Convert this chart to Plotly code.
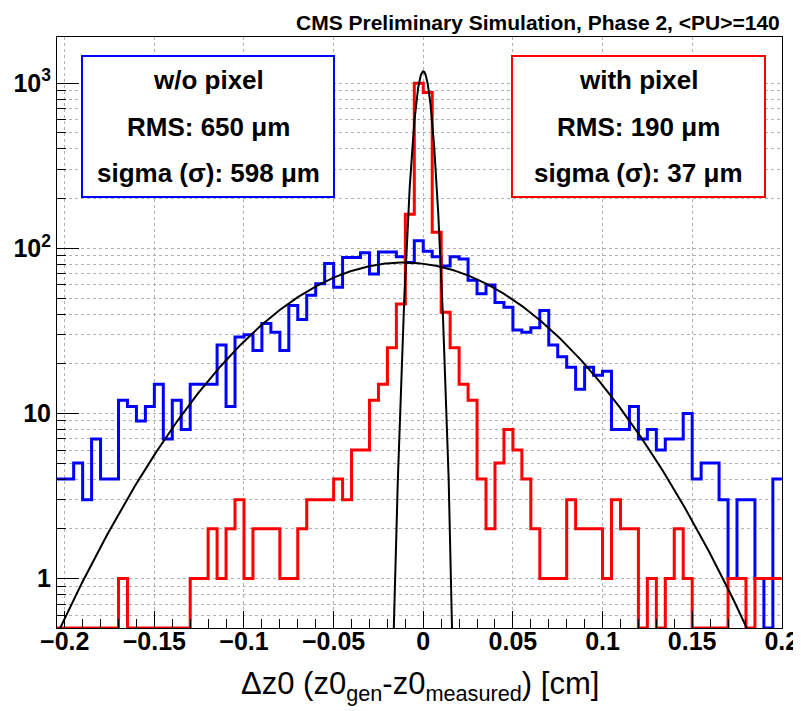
import numpy as np
import plotly.graph_objects as go

# ---------------- data ----------------
BIN_WIDTH = 0.005
BIN_START = -0.205  # first (partly visible) bin edge; 81 bins up to 0.2

wo_pixel_counts = [
    4, 4, 5, 3, 7, 4, 4, 12, 11, 9, 11, 15, 7, 12, 8, 15, 15, 15, 26, 11,
    29, 30, 24, 35, 31, 24, 45, 37, 52, 61, 81, 58, 88, 88, 94, 70, 95, 95, 89, 82,
    111, 96, 89, 78, 89, 86, 64, 53, 60, 47, 44, 32, 31, 33, 42, 26, 22, 19, 14, 19,
    17, 18, 8, 8, 11, 7, 8, 6, 7, 7, 10, 4, 5, 5, 3, 1, 3, 3, 1, 0, 4,
]

with_pixel_counts = [
    0, 0, 0, 0, 0, 0, 0, 1, 0, 0, 0, 0, 0, 0, 0, 1, 1, 2, 1, 2,
    3, 1, 2, 2, 2, 1, 1, 2, 3, 3, 3, 4, 3, 6, 6, 12, 15, 25, 46, 161,
    1000, 880, 125, 41, 25, 15, 12, 4, 2, 5, 8, 6, 4, 2, 1, 1, 1, 3, 2, 2,
    2, 1, 3, 2, 2, 0, 1, 0, 1, 2, 1, 0, 0, 0, 0, 1, 1, 0, 1, 1, 1,
]

# Gaussian fit parameters (amplitude, mean [cm], sigma [cm])
wide_fit = (82.0, -0.011, 0.060)
narrow_fit = (1180.0, 0.0, 0.0042)

box_wo_lines = ["w/o pixel", "RMS: 650 \u03bcm", "sigma (\u03c3): 598 \u03bcm"]
box_with_lines = ["with pixel", "RMS: 190 \u03bcm", "sigma (\u03c3): 37 \u03bcm"]
title_text = "CMS Preliminary Simulation, Phase 2, &lt;PU&gt;=140"
x_title = "\u0394z0 (z0<sub>gen</sub>-z0<sub>measured</sub>) [cm]"

x_tick_vals = [-0.2, -0.15, -0.1, -0.05, 0, 0.05, 0.1, 0.15, 0.2]
x_tick_text = ["\u22120.2", "\u22120.15", "\u22120.1", "\u22120.05", "0", "0.05", "0.1", "0.15", "0.2"]
y_tick_vals = [1, 10, 100, 1000]
y_tick_text = ["1", "10", "10<sup>2</sup>", "10<sup>3</sup>"]

# ---------------- layout geometry ----------------
# The page body has an 8px margin, so the figure starts at (8, 8) in the screenshot.
OFF = 8
SW, SH = 801, 711                 # screenshot size
W, H = SW - OFF, SH - OFF         # figure size
L, R, T, B = 57, 782, 37, 628     # plot frame in screenshot pixels
X_RANGE = [-0.2043, 0.2001]
Y_LOG_RANGE = [-0.30, 3.28]
y_floor = 10 ** Y_LOG_RANGE[0]

FONT = "Liberation Sans, Arial, Helvetica, sans-serif"

def px2paper_x(px):
    return (px - L) / (R - L)

def px2paper_y(py):
    return (B - py) / (B - T)

def hist_xy(counts):
    n = len(counts)
    edges = BIN_START + BIN_WIDTH * np.arange(n + 1)
    vals = [c if c > 0 else y_floor for c in counts]
    return list(edges), vals + [vals[-1]]

def gauss(x, p):
    a, m, s = p
    return a * np.exp(-0.5 * ((x - m) / s) ** 2)

fig = go.Figure()

bx, by = hist_xy(wo_pixel_counts)
fig.add_trace(go.Scatter(x=bx, y=by, mode="lines", line=dict(shape="hv", color="#0000ff", width=3),
                         showlegend=False, hoverinfo="skip"))
rx, ry = hist_xy(with_pixel_counts)
fig.add_trace(go.Scatter(x=rx, y=ry, mode="lines", line=dict(shape="hv", color="#ff0000", width=3),
                         showlegend=False, hoverinfo="skip"))

xw = np.linspace(X_RANGE[0], X_RANGE[1], 600)
fig.add_trace(go.Scatter(x=xw, y=gauss(xw, wide_fit), mode="lines", line=dict(color="black", width=2),
                         showlegend=False, hoverinfo="skip"))
xn = np.linspace(-0.025, 0.025, 601)
fig.add_trace(go.Scatter(x=xn, y=gauss(xn, narrow_fit), mode="lines", line=dict(color="black", width=2),
                         showlegend=False, hoverinfo="skip"))

minor_y = [m * 10 ** d for d in range(-1, 4) for m in range(2, 10)]
minor_y = [v for v in minor_y if Y_LOG_RANGE[0] < np.log10(v) < Y_LOG_RANGE[1]]

grid_col = "#b0b0b0"
fig.update_layout(
    width=W, height=H,
    margin=dict(l=L - OFF, r=SW - R, t=T - OFF, b=SH - B, autoexpand=False),
    paper_bgcolor="white", plot_bgcolor="white",
    xaxis=dict(
        range=X_RANGE, tickmode="array", tickvals=x_tick_vals, ticktext=x_tick_text,
        ticks="inside", ticklen=17, tickwidth=1, tickcolor="black", automargin=False,
        ticklabeloverflow="allow", ticklabelstandoff=-9,
        showline=True, linecolor="black", linewidth=1, mirror=True,
        showgrid=True, gridcolor=grid_col, griddash="dot", gridwidth=1, zeroline=False,
        minor=dict(dtick=0.01, tick0=0, ticks="inside", ticklen=9, tickcolor="black", showgrid=False),
        tickfont=dict(family=FONT, size=25, color="black", weight="bold"),
    ),
    yaxis=dict(
        type="log", range=Y_LOG_RANGE, tickmode="array", tickvals=y_tick_vals, ticktext=y_tick_text,
        ticks="inside", ticklen=22, tickwidth=1, tickcolor="black", automargin=False,
        ticklabeloverflow="allow",
        showline=True, linecolor="black", linewidth=1, mirror=True,
        showgrid=True, gridcolor=grid_col, griddash="dot", gridwidth=1, zeroline=False,
        minor=dict(tickmode="array", tickvals=minor_y, ticks="inside", ticklen=9, tickcolor="black",
                   showgrid=True, gridcolor=grid_col, griddash="dot", gridwidth=1),
        tickfont=dict(family=FONT, size=25, color="black", weight="bold"),
    ),
)

# statistic boxes
boxes = [
    (82, 334, "#0000ff", box_wo_lines),
    (512, 765, "#ff0000", box_with_lines),
]
line_y = [80, 127, 173]
for x0, x1, col, lines in boxes:
    fig.add_shape(type="rect", xref="paper", yref="paper",
                  x0=px2paper_x(x0), x1=px2paper_x(x1), y0=px2paper_y(197), y1=px2paper_y(56),
                  line=dict(color=col, width=2), fillcolor="white", layer="above")
    for txt, yy in zip(lines, line_y):
        fig.add_annotation(xref="paper", yref="paper", x=px2paper_x((x0 + x1) / 2), y=px2paper_y(yy),
                           text=txt, showarrow=False, xanchor="center", yanchor="middle",
                           font=dict(family=FONT, size=26, color="black", weight="bold"))

fig.add_annotation(xref="paper", yref="paper", x=px2paper_x(781), y=px2paper_y(22),
                   text=title_text, showarrow=False, xanchor="right", yanchor="middle", borderpad=0,
                   font=dict(family=FONT, size=21, color="black", weight="bold"))

fig.add_annotation(xref="paper", yref="paper", x=0.5, y=px2paper_y(686),
                   text=x_title, showarrow=False, xanchor="center", yanchor="middle",
                   font=dict(family=FONT, size=31, color="black"))

fig.write_html("out.html")
